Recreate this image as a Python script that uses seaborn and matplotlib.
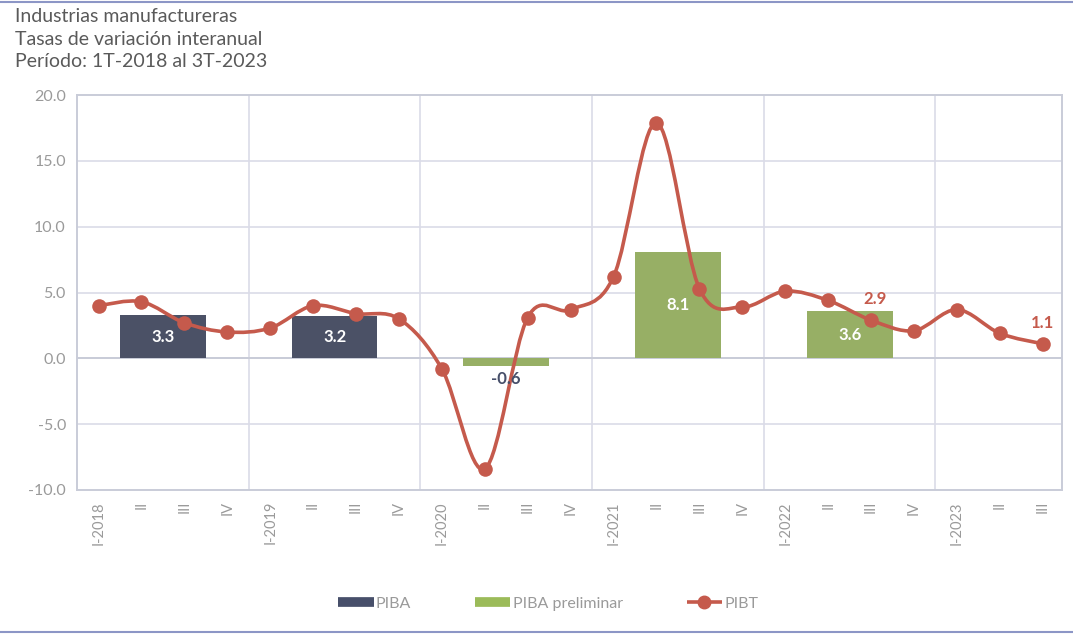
import numpy as np
import pandas as pd
import matplotlib
matplotlib.use("Agg")
import matplotlib.pyplot as plt
import seaborn as sns
from matplotlib.path import Path
from matplotlib.patches import PathPatch
from matplotlib.lines import Line2D

# quarterly series (PIBT)
quarters = ["I-2018", "II", "III", "IV",
            "I-2019", "II", "III", "IV",
            "I-2020", "II", "III", "IV",
            "I-2021", "II", "III", "IV",
            "I-2022", "II", "III", "IV",
            "I-2023", "II", "III"]
pibt = [4.0, 4.3, 2.7, 2.0,
        2.3, 4.0, 3.4, 3.0,
        -0.8, -8.4, 3.1, 3.7,
        6.2, 17.9, 5.3, 3.9,
        5.1, 4.4, 2.9, 2.1,
        3.7, 1.9, 1.1]

# annual series (PIBA), centred on each year
years = [2018, 2019, 2020, 2021, 2022]
piba = [3.3, 3.2, -0.6, 8.1, 3.6]
piba_type = ["PIBA", "PIBA", "PIBA preliminar", "PIBA preliminar", "PIBA preliminar"]

navy = "#474f6a"
green = "#9bbb59"
red = "#c55a4c"
grid_c = "#dadce8"
txt_c = "#9a9a9a"

sns.set_style("white")
plt.rcParams["font.family"] = ["Lato", "DejaVu Sans"]

fig = plt.figure(figsize=(10.73, 6.37), dpi=100)
ax = fig.add_axes([0.0718, 0.2308, 0.918, 0.620])

x_q = np.arange(len(quarters))
x_y = [4 * i + 1.5 for i in range(len(years))]

df_bars = pd.DataFrame({"x": x_y, "val": piba, "tipo": piba_type})
sns.barplot(data=df_bars, x="x", y="val", hue="tipo", native_scale=True,
            palette={"PIBA": navy, "PIBA preliminar": green}, width=0.5,
            dodge=False, legend=False, ax=ax, zorder=2, linewidth=0)

# smoothed line through the quarterly points
pts = np.column_stack([x_q, pibt]).astype(float)
ext = np.vstack([pts[0], pts, pts[-1]])
verts = [tuple(pts[0])]
codes = [Path.MOVETO]
for i in range(len(pts) - 1):
    p0, p1, p2, p3 = ext[i], ext[i + 1], ext[i + 2], ext[i + 3]
    c1 = p1 + (p2 - p0) / 6
    c2 = p2 - (p3 - p1) / 6
    verts += [tuple(c1), tuple(c2), tuple(p2)]
    codes += [Path.CURVE4] * 3
ax.add_patch(PathPatch(Path(verts, codes), fill=False, edgecolor=red, lw=2.6, zorder=3))
sns.scatterplot(x=x_q, y=pibt, color=red, s=110, edgecolor=red, linewidth=0, ax=ax, zorder=4)

# labels
for x, v in zip(x_y, piba):
    if v >= 0:
        ax.text(x, v / 2, f"{v:.1f}", ha="center", va="center", color="white",
                fontsize=12, fontweight="bold", zorder=5)
    else:
        ax.text(x, v - 0.4, f"{v:.1f}", ha="center", va="top", color=navy,
                fontsize=12, fontweight="bold", zorder=5)
for i in [18, 22]:
    ax.text(x_q[i] + (0.1 if i == 18 else 0.0), pibt[i] + 1.0, f"{pibt[i]:.1f}",
            ha="center", va="bottom", color=red, fontsize=12, fontweight="bold", zorder=5)

ax.set_xlim(-0.5, 22.45)
ax.set_ylim(-10, 20)
ax.set_yticks(np.arange(-10, 20.1, 5))
ax.set_yticklabels([f"{v:.1f}" for v in np.arange(-10, 20.1, 5)], color=txt_c, fontsize=11.5)
ax.set_xticks(x_q)
ax.set_xticklabels(quarters, rotation=90, color=txt_c, fontsize=10.5)
ax.tick_params(length=0, pad=8)
ax.set_xlabel("")
ax.set_ylabel("")
for yv in np.arange(-5, 20, 5):
    ax.axhline(yv, color=grid_c, lw=1.2, zorder=0)
for xv in [3.5, 7.5, 11.5, 15.5, 19.5]:
    ax.axvline(xv, color=grid_c, lw=1.2, zorder=0)
ax.axhline(0, color="#c9ccd8", lw=1.4, zorder=1)
for s in ax.spines.values():
    s.set_color("#c9ccd8")
    s.set_linewidth(1.4)

# titles
fig.text(0.014, 0.988, "Industrias manufactureras\nTasas de variación interanual\nPeríodo: 1T-2018 al 3T-2023",
         ha="left", va="top", fontsize=14, color="#5a5a5a", linespacing=1.42)

# legend
handles = [Line2D([], [], color=navy, lw=7, solid_capstyle="butt"),
           Line2D([], [], color=green, lw=7, solid_capstyle="butt"),
           Line2D([], [], color=red, lw=2.6, marker="o", markersize=9, solid_capstyle="butt")]
fig.legend(handles, ["PIBA", "PIBA preliminar", "PIBT"], loc="center",
           bbox_to_anchor=(0.511, 0.052), ncol=3, frameon=False, handlelength=2.2,
           handletextpad=0.15, columnspacing=4.0, labelcolor=txt_c, fontsize=11.5)

# frame rules top and bottom
fig.add_artist(Line2D([0, 1], [0.997, 0.997], transform=fig.transFigure, color="#8c96c6", lw=1.5))
fig.add_artist(Line2D([0, 1], [0.008, 0.008], transform=fig.transFigure, color="#8c96c6", lw=1.5))

fig.savefig("out.png", dpi=100)
